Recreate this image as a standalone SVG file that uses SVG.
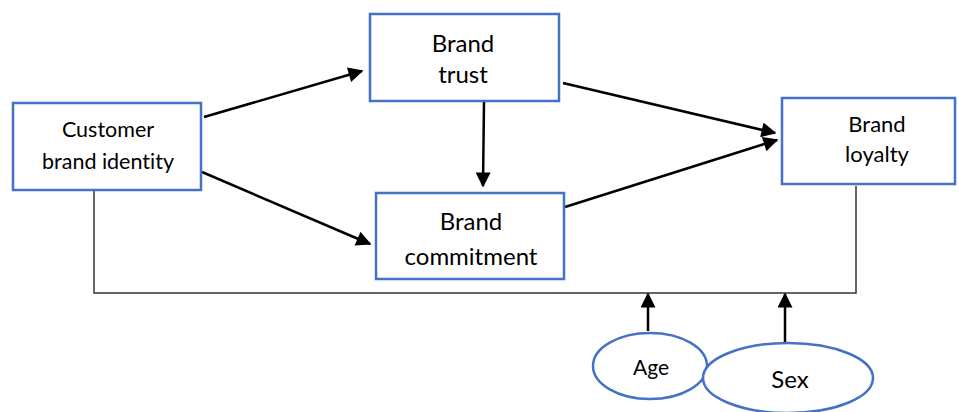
<svg xmlns="http://www.w3.org/2000/svg" width="959" height="412" viewBox="0 0 959 412">
  <style>
    .box { fill: #ffffff; stroke: #4472c4; stroke-width: 2.5; }
    .oval { fill: #ffffff; stroke: #4472c4; stroke-width: 2.5; }
    .lbl { font-family: Lato, "Open Sans", "Liberation Sans", sans-serif; fill: #000000; text-anchor: middle; font-variant-ligatures: none; font-feature-settings: "liga" 0; }
    .arr { stroke: #000000; stroke-width: 2.5; fill: none; marker-end: url(#head); }
    .frame { stroke: #333333; stroke-width: 1.5; fill: none; }
  </style>
  <defs>
    <marker id="head" viewBox="0 0 10 10" refX="9" refY="5" markerUnits="userSpaceOnUse" markerWidth="17" markerHeight="15" orient="auto">
      <path d="M0,0 L10,5 L0,10 z" fill="#000000"/>
    </marker>
  </defs>

  <g id="connectors">
    <polyline class="frame" points="94,190 94,293 856,293 856,186"/>
    <line class="arr" x1="204" y1="117" x2="362" y2="71"/>
    <line class="arr" x1="202" y1="172" x2="370" y2="244"/>
    <line class="arr" x1="484" y1="102" x2="483" y2="186"/>
    <line class="arr" x1="563" y1="83" x2="775" y2="133"/>
    <line class="arr" x1="565" y1="207" x2="777" y2="140"/>
    <line class="arr" x1="648" y1="331" x2="648" y2="294"/>
    <line class="arr" x1="785" y1="343" x2="785" y2="294"/>
  </g>

  <g id="customer-brand-identity">
    <rect class="box" x="13" y="103" width="188" height="87"/>
    <text class="lbl" x="108" y="137" font-size="21.5">Customer</text>
    <text class="lbl" x="108" y="169" font-size="21.5">brand identity</text>
  </g>

  <g id="brand-trust">
    <rect class="box" x="370" y="14" width="189" height="87"/>
    <text class="lbl" x="463" y="52" font-size="24">Brand</text>
    <text class="lbl" x="463" y="83" font-size="24">trust</text>
  </g>

  <g id="brand-commitment">
    <rect class="box" x="376" y="193" width="188" height="86"/>
    <text class="lbl" x="471" y="230" font-size="24">Brand</text>
    <text class="lbl" x="471" y="265" font-size="24">commitment</text>
  </g>

  <g id="brand-loyalty">
    <rect class="box" x="782" y="98" width="173" height="86"/>
    <text class="lbl" x="877" y="132" font-size="22">Brand</text>
    <text class="lbl" x="877" y="162" font-size="22">loyalty</text>
  </g>

  <g id="age">
    <ellipse class="oval" cx="650" cy="366" rx="57" ry="33"/>
    <text class="lbl" x="651" y="375" font-size="21">Age</text>
  </g>

  <g id="sex">
    <ellipse class="oval" cx="788" cy="378" rx="85" ry="35"/>
    <text class="lbl" x="790" y="388" font-size="24">Sex</text>
  </g>
</svg>
